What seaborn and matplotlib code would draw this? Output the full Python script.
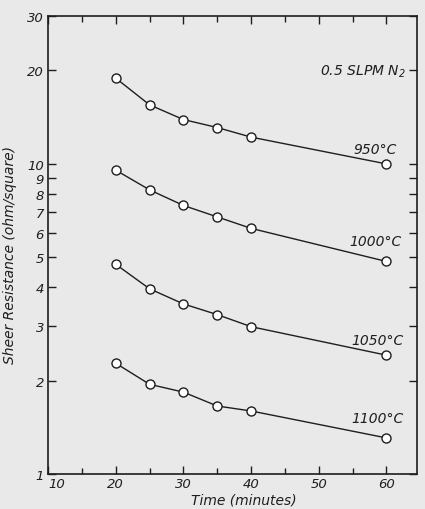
import matplotlib
matplotlib.use('Agg')
import matplotlib.pyplot as plt
import matplotlib.ticker as mticker
import pandas as pd
import seaborn as sns

# time in minutes
times = [20, 25, 30, 35, 40, 60]

# sheet resistance (ohm/square)
r_950 = [18.9, 15.5, 13.9, 13.1, 12.2, 10.0]
r_1000 = [9.55, 8.25, 7.35, 6.75, 6.2, 4.85]
r_1050 = [4.75, 3.96, 3.54, 3.27, 2.99, 2.42]
r_1100 = [2.28, 1.95, 1.84, 1.66, 1.60, 1.31]

series_names = ['950°C', '1000°C', '1050°C', '1100°C']
series_values = [r_950, r_1000, r_1050, r_1100]

y_ticks = [1, 2, 3, 4, 5, 6, 7, 8, 9, 10, 20, 30]
y_ticklabels = ['1', '2', '3', '4', '5', '6', '7', '8', '9', '10', '20', '30']
x_ticks = [10, 20, 30, 40, 50, 60]

paper = '#e9e9e9'
ink = '#1e1e1e'

sns.set_style('ticks')
plt.rcParams['font.family'] = ['DejaVu Sans']
plt.rcParams['font.style'] = 'italic'

frames = []
for name, vals in zip(series_names, series_values):
    frames.append(pd.DataFrame({'time': times, 'res': vals, 'temp': name}))
df = pd.concat(frames, ignore_index=True)

fig = plt.figure(figsize=(4.25, 5.1), dpi=100, facecolor=paper)
ax = fig.add_axes([0.113, 0.068, 0.868, 0.899])
ax.set_facecolor(paper)

for name in series_names:
    sub = df[df['temp'] == name]
    sns.lineplot(data=sub, x='time', y='res', ax=ax, color=ink, linewidth=1.0,
                 marker='o', markersize=6.5, markerfacecolor='white',
                 markeredgecolor=ink, markeredgewidth=1.0)

ax.set_yscale('log')
ax.set_xlim(10, 64.5)
ax.set_ylim(1, 30)

ax.yaxis.set_major_locator(mticker.FixedLocator(y_ticks))
ax.yaxis.set_major_formatter(mticker.FixedFormatter(y_ticklabels))
ax.yaxis.set_minor_locator(mticker.NullLocator())
ax.xaxis.set_major_locator(mticker.FixedLocator(x_ticks))
ax.xaxis.set_minor_locator(mticker.MultipleLocator(5))

ax.tick_params(axis='both', which='both', direction='in', top=True, right=True,
               color=ink, width=1.0, labelsize=9.5, labelcolor=ink)
ax.tick_params(axis='both', which='major', length=6, pad=3)
ax.tick_params(axis='x', which='major', pad=2)
ax.tick_params(axis='both', which='minor', length=4)
for s in ax.spines.values():
    s.set_color(ink)
    s.set_linewidth(1.2)

# "10" starts at the axis corner, clear of the "1"
ax.xaxis.get_major_ticks()[0].label1.set_horizontalalignment('left')

ax.set_xlabel('Time (minutes)', fontsize=10, color=ink)
ax.set_ylabel('Sheer Resistance (ohm/square)', fontsize=10, color=ink)
ax.xaxis.set_label_coords(0.53, -0.040)
ax.yaxis.set_label_coords(-0.085, 0.48)

label_pos = [(61.5, 11.2), (62.3, 5.65), (62.6, 2.7), (62.6, 1.52)]
for name, (lx, ly) in zip(series_names, label_pos):
    ax.text(lx, ly, name, ha='right', va='center', fontsize=10, color=ink)
ax.text(62.8, 20.0, '0.5 SLPM N$_2$', ha='right', va='center', fontsize=10, color=ink)

fig.savefig('out.png', dpi=100, facecolor=paper)
plt.close(fig)
